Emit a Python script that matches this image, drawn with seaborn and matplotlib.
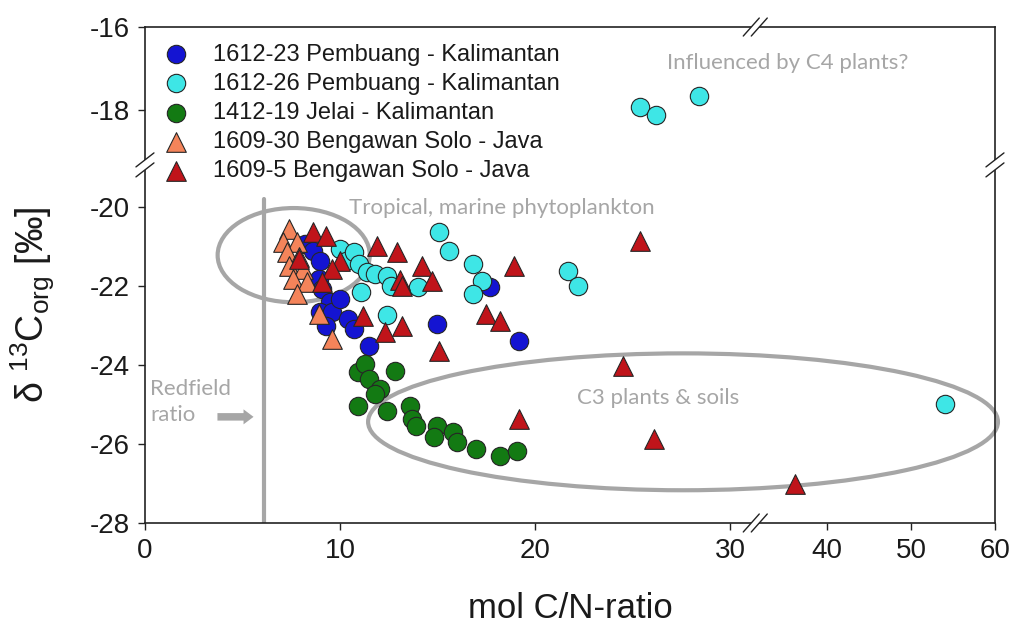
import numpy as np
import pandas as pd
import matplotlib
matplotlib.use('Agg')
import matplotlib.pyplot as plt
import seaborn as sns
from matplotlib.patches import Ellipse, Polygon

# ---------------- data ----------------
series_names = ["1612-23 Pembuang - Kalimantan", "1612-26 Pembuang - Kalimantan",
                "1412-19 Jelai - Kalimantan", "1609-30 Bengawan Solo - Java",
                "1609-5 Bengawan Solo - Java"]

blue_x = [8.2, 8.6, 9.0, 8.9, 9.1, 9.5, 9.0, 9.6, 9.3, 10.0, 10.4, 10.7, 11.5, 15.0, 17.7, 19.2]
blue_y = [-20.94, -21.11, -21.37, -21.82, -22.08, -22.4, -22.66, -22.66, -23.01, -22.33, -22.84,
          -23.09, -23.52, -22.96, -22.03, -23.39]

cyan_x = [10.0, 10.3, 10.7, 11.0, 11.4, 11.8, 11.1, 12.4, 12.6, 14.0, 12.4, 15.1, 15.6, 16.8,
          17.3, 16.8, 21.7, 22.2, 25.4, 26.2, 28.4, 54.0]
cyan_y = [-21.06, -21.37, -21.14, -21.44, -21.65, -21.7, -22.15, -21.75, -22.0, -22.03, -22.73,
          -20.63, -21.11, -21.44, -21.87, -22.2, -21.62, -22.0, -17.93, -18.11, -17.66, -25.0]

green_x = [10.9, 11.3, 11.5, 12.8, 12.05, 11.8, 10.9, 12.4, 13.6, 13.7, 13.9, 15.0, 14.8, 15.8,
           16.0, 17.0, 18.2, 19.1]
green_y = [-24.18, -23.97, -24.35, -24.15, -24.6, -24.73, -25.04, -25.16, -25.04, -25.37, -25.54,
           -25.54, -25.82, -25.7, -25.95, -26.13, -26.3, -26.18]

orange_x = [7.4, 7.1, 7.8, 7.3, 7.9, 7.4, 8.1, 7.6, 8.3, 7.8, 8.9, 9.6]
orange_y = [-20.56, -20.89, -20.89, -21.14, -21.27, -21.49, -21.57, -21.82, -21.9, -22.2, -22.71,
            -23.34]

red_x = [8.6, 9.3, 7.9, 10.0, 9.6, 9.1, 11.9, 12.9, 13.1, 13.2, 14.2, 14.7, 11.2, 12.3, 13.2,
         18.9, 17.5, 18.2, 15.1, 25.4, 24.5, 19.2, 26.1, 36.2]
red_y = [-20.63, -20.73, -21.32, -21.37, -21.57, -21.9, -20.99, -21.14, -21.85, -22.0, -21.49,
         -21.87, -22.76, -23.16, -23.01, -21.49, -22.71, -22.89, -23.65, -20.86, -24.03, -25.37,
         -25.87, -27.01]

x_ticks = [0, 10, 20, 30, 40, 50, 60]
y_ticks = [-28, -26, -24, -22, -20, -18, -16]
redfield_x = 6.1
redfield_y = [-28, -19.8]

colors = ["#1414d2", "#3ee6e6", "#137a13", "#f4845a", "#c0141a"]
markers = ["o", "o", "o", "^", "^"]

frames = []
for name, xs, ys in zip(series_names,
                        [blue_x, cyan_x, green_x, orange_x, red_x],
                        [blue_y, cyan_y, green_y, orange_y, red_y]):
    frames.append(pd.DataFrame({"cn": xs, "d13c": ys, "series": name}))
df = pd.concat(frames, ignore_index=True)

# ---------------- style ----------------
sns.set_theme(style="white")
plt.rcParams['font.family'] = ['Liberation Sans', 'DejaVu Sans']
plt.rcParams['mathtext.default'] = 'regular'

fig = plt.figure(figsize=(10.13, 6.33), dpi=100)
ax = fig.add_axes([0.1431, 0.1738, 0.8391, 0.7835])

# broken-axis scales (piecewise linear)
XB, XS1, XS2 = 31.17, 19.5, 8.4
def fx(x):
    x = np.asarray(x, float)
    return np.where(x <= XB, x * XS1, XB * XS1 + (x - XB) * XS2)
def ix(p):
    p = np.asarray(p, float)
    return np.where(p <= XB * XS1, p / XS1, XB + (p - XB * XS1) / XS2)

YB, YS1, YS2 = -19.0, 39.5, 41.5
def fy(y):
    y = np.asarray(y, float)
    return np.where(y <= YB, (y + 28) * YS1, 496 - (-16 - y) * YS2)
def iy(p):
    p = np.asarray(p, float)
    lo = (YB + 28) * YS1
    hi = 496 - (-16 - YB) * YS2
    return np.where(p <= lo, p / YS1 - 28, np.where(p >= hi, -16 - (496 - p) / YS2, YB))

for name, col, mk in zip(series_names, colors, markers):
    sub = df[df.series == name]
    sns.scatterplot(data=sub, x="cn", y="d13c", ax=ax, color=col, marker=mk,
                    s=175 if mk == "o" else 200, edgecolor="#262626", linewidth=0.8,
                    label=name, zorder=3)

ax.set_xscale('function', functions=(fx, ix))
ax.set_yscale('function', functions=(fy, iy))
ax.set_xlim(0, 60)
ax.set_ylim(-28, -16)
ax.set_xticks(x_ticks)
ax.set_yticks(y_ticks)
ax.set_xticklabels([str(v) for v in x_ticks])
ax.set_yticklabels([str(v) for v in y_ticks])
ax.minorticks_off()

for s in ax.spines.values():
    s.set_color("#222222")
    s.set_linewidth(1.2)
ax.tick_params(axis='both', direction='out', length=5, width=1, color="#222222",
               labelsize=20, labelcolor="#1a1a1a", pad=6)
ax.tick_params(axis='both', which='both', bottom=True, left=True)

ax.set_xlabel("mol C/N-ratio", fontsize=25, color="#1a1a1a", labelpad=20)
ax.set_ylabel("δ $^{13}$C$_{org}$ [‰]", fontsize=27, color="#1a1a1a")
ax.yaxis.set_label_coords(-0.104, 0.44)

# Redfield line
ax.plot([redfield_x, redfield_x], redfield_y, color="#a6a6a6", lw=3, zorder=2)

gray = "#a6a6a6"
ann_font = ['Lato', 'DejaVu Sans']
# ellipses (axes fraction)
ax.add_patch(Ellipse((0.175, 0.54), 0.179, 0.19, transform=ax.transAxes, fill=False,
                     ec=gray, lw=3, zorder=2.5, clip_on=False))
ax.add_patch(Ellipse((0.633, 0.204), 0.741, 0.276, transform=ax.transAxes, fill=False,
                     ec=gray, lw=3, zorder=2.5, clip_on=False))

ax.text(0.42, 0.635, "Tropical, marine phytoplankton", transform=ax.transAxes, ha='center',
        va='center', fontsize=16, color=gray, family=ann_font)
ax.text(0.756, 0.927, "Influenced by C4 plants?", transform=ax.transAxes, ha='center',
        va='center', fontsize=16, color=gray, family=ann_font)
ax.text(0.604, 0.252, "C3 plants & soils", transform=ax.transAxes, ha='center',
        va='center', fontsize=16, color=gray, family=ann_font)
ax.text(0.006, 0.244, "Redfield\nratio", transform=ax.transAxes, ha='left',
        va='center', fontsize=16, color=gray, family=ann_font, linespacing=1.4)
ax.annotate("", xy=(0.131, 0.214), xytext=(0.082, 0.214), xycoords=ax.transAxes,
            textcoords=ax.transAxes,
            arrowprops=dict(arrowstyle='simple,head_width=0.9,head_length=0.6,tail_width=0.45',
                            color=gray, lw=0))

# break marks
PX, PY = 1 / 850, 1 / 496
def brk(xf, yf, horizontal):
    if horizontal:
        w, h, offs = 16 * PX, 18 * PY, [-4 * PX, 4 * PX]
        l1 = [(xf - w / 2 + offs[0], yf - h / 2), (xf + w / 2 + offs[0], yf + h / 2)]
        l2 = [(xf - w / 2 + offs[1], yf - h / 2), (xf + w / 2 + offs[1], yf + h / 2)]
    else:
        w, h, offs = 18 * PX, 14 * PY, [-5 * PY, 5 * PY]
        l1 = [(xf - w / 2, yf - h / 2 + offs[0]), (xf + w / 2, yf + h / 2 + offs[0])]
        l2 = [(xf - w / 2, yf - h / 2 + offs[1]), (xf + w / 2, yf + h / 2 + offs[1])]
    poly = Polygon([l1[0], l1[1], l2[1], l2[0]], closed=True, transform=ax.transAxes,
                   fc='white', ec='none', clip_on=False, zorder=5)
    ax.add_patch(poly)
    for ln in (l1, l2):
        ax.plot([ln[0][0], ln[1][0]], [ln[0][1], ln[1][1]], transform=ax.transAxes,
                color="#222222", lw=1, clip_on=False, zorder=6)

XBF, YBF = 0.718, 0.722
brk(XBF, 1.0, True)
brk(XBF, 0.0, True)
brk(0.0, YBF, False)
brk(1.0, YBF, False)

leg = ax.legend(loc='upper left', bbox_to_anchor=(0.0, 1.0), frameon=False, fontsize=17,
                handletextpad=1.0, labelspacing=0.3, borderaxespad=0.3, handlelength=1.2,
                labelcolor="#1a1a1a")

fig.savefig("out.png", dpi=100)
